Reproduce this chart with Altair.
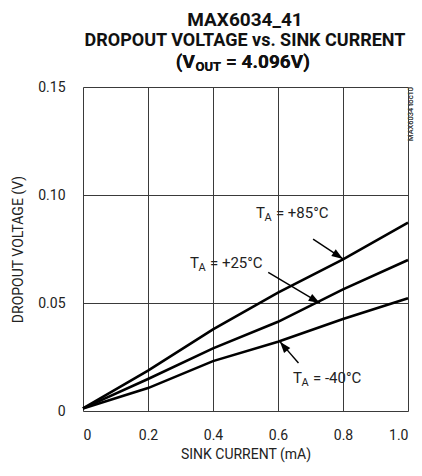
import altair as alt
import pandas as pd

# ---- data ----
current_ma = [0.0, 0.2, 0.4, 0.6, 0.8, 1.0]
v_85 = [0.0012, 0.0187, 0.0378, 0.0548, 0.0702, 0.0872]
v_25 = [0.0012, 0.0148, 0.0290, 0.0413, 0.0563, 0.0699]
v_m40 = [0.0012, 0.0106, 0.0231, 0.0321, 0.0426, 0.0522]
series_names = ["+85", "+25", "-40"]

x_ticks = [0, 0.2, 0.4, 0.6, 0.8, 1.0]
y_ticks = [0, 0.05, 0.10, 0.15]

# annotation labels in data coordinates
label_text = ["= +85°C", "= +25°C", "= -40°C"]
label_x = [0.532, 0.329, 0.646]
label_y = [0.0894, 0.0662, 0.0130]
# arrows: start (x, y) -> tip (x, y)
arrow_x0 = [0.708, 0.570, 0.663]
arrow_y0 = [0.0796, 0.0642, 0.0222]
arrow_x1 = [0.800, 0.729, 0.606]
arrow_y1 = [0.0704, 0.0499, 0.0321]
arrow_angle = [33.7, 30.8, 230.7]

FONT = "Roboto, Liberation Sans, sans-serif"

rows = []
for name, vals in zip(series_names, [v_85, v_25, v_m40]):
    for x, v in zip(current_ma, vals):
        rows.append({"series": name, "current": x, "voltage": v})
curves = pd.DataFrame(rows)

ann = pd.DataFrame({
    "text": label_text, "lx": label_x, "ly": label_y,
    "x0": arrow_x0, "y0": arrow_y0, "x1": arrow_x1, "y1": arrow_y1,
    "angle": arrow_angle,
})

xs = alt.Scale(domain=[0, 1.0], nice=False, zero=False)
ys = alt.Scale(domain=[0, 0.15], nice=False, zero=False)

base = alt.Chart(curves)

lines = base.mark_line(color="black", strokeWidth=2.6).encode(
    x=alt.X("current:Q", scale=xs,
            axis=alt.Axis(values=x_ticks, title="SINK CURRENT (mA)",
                          labelExpr="datum.value == 0 ? '0' : format(datum.value, '.1f')",
                          grid=True, gridColor="#3a3a3a", gridWidth=1,
                          ticks=False, domain=False, labelPadding=17,
                          labelFontSize=14, titleFontSize=14, titlePadding=5,
                          labelFont=FONT, titleFont=FONT, labelColor="#222",
                          titleColor="#222", titleFontWeight="normal")),
    y=alt.Y("voltage:Q", scale=ys,
            axis=alt.Axis(values=y_ticks, title="DROPOUT VOLTAGE (V)",
                          labelExpr="datum.value == 0 ? '0' : format(datum.value, '.2f')",
                          grid=True, gridColor="#3a3a3a", gridWidth=1,
                          ticks=False, domain=False, labelPadding=18,
                          labelFontSize=14, titleFontSize=14, titlePadding=12,
                          labelFont=FONT, titleFont=FONT, labelColor="#222",
                          titleColor="#222", titleFontWeight="normal")),
    detail="series:N",
)

ab = alt.Chart(ann)
arrow_lines = ab.mark_rule(color="black", strokeWidth=1.4).encode(
    x=alt.X("x0:Q", scale=xs), y=alt.Y("y0:Q", scale=ys),
    x2="x1:Q", y2="y1:Q",
)
arrow_heads = ab.mark_point(
    shape="M0,0L-2,-0.7L-2,0.7Z", filled=True, color="black", opacity=1,
    size=130, strokeWidth=0,
).encode(
    x=alt.X("x1:Q", scale=xs), y=alt.Y("y1:Q", scale=ys),
    angle=alt.Angle("angle:Q", scale=None),
)

t_main = ab.mark_text(align="left", baseline="alphabetic", font=FONT,
                      fontSize=15, color="#222").encode(
    x=alt.X("lx:Q", scale=xs), y=alt.Y("ly:Q", scale=ys), text=alt.value("T"),
)
t_sub = ab.mark_text(align="left", baseline="alphabetic", font=FONT,
                     fontSize=11, color="#222", dx=8.5, dy=3).encode(
    x=alt.X("lx:Q", scale=xs), y=alt.Y("ly:Q", scale=ys), text=alt.value("A"),
)
t_rest = ab.mark_text(align="left", baseline="alphabetic", font=FONT,
                      fontSize=15, color="#222", dx=20).encode(
    x=alt.X("lx:Q", scale=xs), y=alt.Y("ly:Q", scale=ys), text="text:N",
)

# titles (three centered lines, the last with subscript)
title_df = pd.DataFrame({"t": ["MAX6034_41", "DROPOUT VOLTAGE vs. SINK CURRENT"],
                         "yy": [-61.5, -41.0], "fs": [19, 18]})
title_lines = alt.Chart(title_df).mark_text(
    align="center", baseline="alphabetic", font=FONT,
    fontWeight="bold", color="#111").encode(
    x=alt.value(162), y=alt.Y("yy:Q", scale=None), text="t:N",
    size=alt.Size("fs:Q", scale=None, legend=None))

t3a = alt.Chart(title_df).mark_text(align="right", baseline="alphabetic", font=FONT,
                                    fontSize=19, fontWeight="bold", color="#111").encode(
    x=alt.value(112), y=alt.value(-19.5), text=alt.value("(V"))
t3b = alt.Chart(title_df).mark_text(align="left", baseline="alphabetic", font=FONT,
                                    fontSize=13, fontWeight="bold", color="#111").encode(
    x=alt.value(112.5), y=alt.value(-16.5), text=alt.value("OUT"))
t3c = alt.Chart(title_df).mark_text(align="left", baseline="alphabetic", font=FONT,
                                    fontSize=19, fontWeight="bold", color="#111").encode(
    x=alt.value(143), y=alt.value(-19.5), text=alt.value("= 4.096V)"))

side = alt.Chart(title_df).mark_text(align="right", baseline="middle", font=FONT,
                                     fontSize=7.5, angle=270, color="#444").encode(
    x=alt.value(328.3), y=alt.value(0), text=alt.value("MAX6034 toc10"))

chart = alt.layer(
    lines, arrow_lines, arrow_heads, t_main, t_sub, t_rest,
    title_lines, t3a, t3b, t3c, side,
).properties(
    width=325, height=324,
    autosize=alt.AutoSizeParams(type="none"),
    padding={"left": 75, "top": 79, "right": 6, "bottom": 55},
).configure_view(
    stroke="black", strokeWidth=3.2,
).configure(background="white")

chart.save("out.html", embed_options={"renderer": "svg", "actions": False})
